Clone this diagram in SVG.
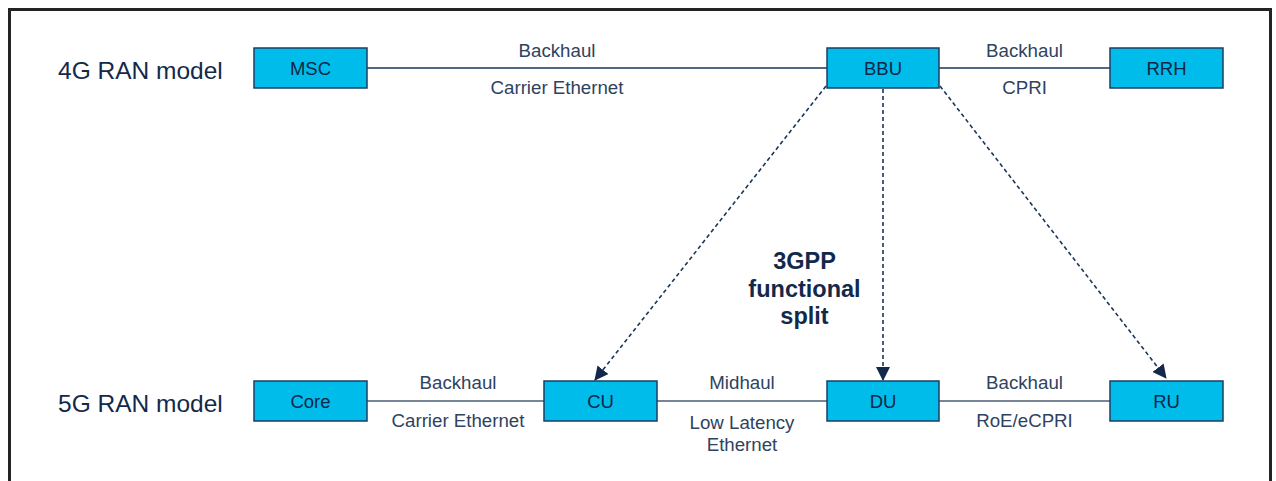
<svg xmlns="http://www.w3.org/2000/svg" width="1276" height="481" viewBox="0 0 1276 481">
  <style>
    .frame { fill: none; stroke: #232323; stroke-width: 3; }
    .node rect { fill: #00bceb; stroke: #1c3e63; stroke-width: 1.5; }
    .node text { font-family: "Liberation Sans", Arial, sans-serif; font-size: 18.5px; fill: #0d2747; text-anchor: middle; }
    .row { font-family: "Liberation Sans", Arial, sans-serif; font-size: 24.5px; fill: #13294b; }
    .link { stroke: #1a3658; stroke-width: 1.6; fill: none; }
    .link.soft { stroke: #4a5d76; }
    .split { stroke: #1a3658; stroke-width: 1.6; stroke-dasharray: 4 3; fill: none; }
    .lbl { font-family: "Liberation Sans", Arial, sans-serif; font-size: 18.7px; fill: #2f4260; text-anchor: middle; }
    .title { font-family: "Liberation Sans", Arial, sans-serif; font-size: 23.5px; font-weight: bold; fill: #13294b; text-anchor: middle; }
  </style>
  <defs>
    <marker id="arrow" viewBox="0 0 14 14" refX="13" refY="7" markerWidth="14" markerHeight="14" markerUnits="userSpaceOnUse" orient="auto">
      <path d="M0,0 L14,7 L0,14 Z" fill="#13294b"/>
    </marker>
  </defs>

  <rect width="1276" height="481" fill="#ffffff"/>
  <!-- open frame: top, left and right edges -->
  <path class="frame" d="M9.5,481 V9.5 H1270.5 V481"/>

  <text class="row" x="58" y="79">4G RAN model</text>
  <text class="row" x="58" y="412">5G RAN model</text>

  <g id="connectors">
    <line class="link" x1="367" y1="68" x2="827" y2="68"/>
    <line class="link" x1="939" y1="68" x2="1110" y2="68"/>
    <line class="link soft" x1="367" y1="401" x2="544" y2="401"/>
    <line class="link soft" x1="657" y1="401" x2="827" y2="401"/>
    <line class="link soft" x1="939" y1="401" x2="1110" y2="401"/>
    <line class="split" x1="826" y1="86" x2="595" y2="380" marker-end="url(#arrow)"/>
    <line class="split" x1="883" y1="89" x2="883" y2="380" marker-end="url(#arrow)"/>
    <line class="split" x1="940" y1="86" x2="1166" y2="378" marker-end="url(#arrow)"/>

    <text class="lbl" x="557" y="57">Backhaul</text>
    <text class="lbl" x="557" y="94">Carrier Ethernet</text>
    <text class="lbl" x="1024.5" y="57">Backhaul</text>
    <text class="lbl" x="1024.5" y="94">CPRI</text>
    <text class="lbl" x="458" y="389">Backhaul</text>
    <text class="lbl" x="458" y="427">Carrier Ethernet</text>
    <text class="lbl" x="742" y="389">Midhaul</text>
    <text class="lbl" x="742" y="429">Low Latency</text>
    <text class="lbl" x="742" y="451">Ethernet</text>
    <text class="lbl" x="1024.5" y="389">Backhaul</text>
    <text class="lbl" x="1024.5" y="427">RoE/eCPRI</text>
  </g>

  <text class="title" x="804.5" y="269">3GPP</text>
  <text class="title" x="804.5" y="297">functional</text>
  <text class="title" x="804.5" y="324">split</text>

  <g id="msc" class="node"><rect x="254" y="48" width="113" height="40"/><text x="310.5" y="75">MSC</text></g>
  <g id="bbu" class="node"><rect x="827" y="48" width="112" height="40"/><text x="883" y="75">BBU</text></g>
  <g id="rrh" class="node"><rect x="1110" y="48" width="113" height="40"/><text x="1166.5" y="75">RRH</text></g>
  <g id="core" class="node"><rect x="254" y="381" width="113" height="40"/><text x="310.5" y="408">Core</text></g>
  <g id="cu" class="node"><rect x="544" y="381" width="113" height="40"/><text x="600.5" y="408">CU</text></g>
  <g id="du" class="node"><rect x="827" y="381" width="112" height="40"/><text x="883" y="408">DU</text></g>
  <g id="ru" class="node"><rect x="1110" y="381" width="113" height="40"/><text x="1166.5" y="408">RU</text></g>
</svg>
